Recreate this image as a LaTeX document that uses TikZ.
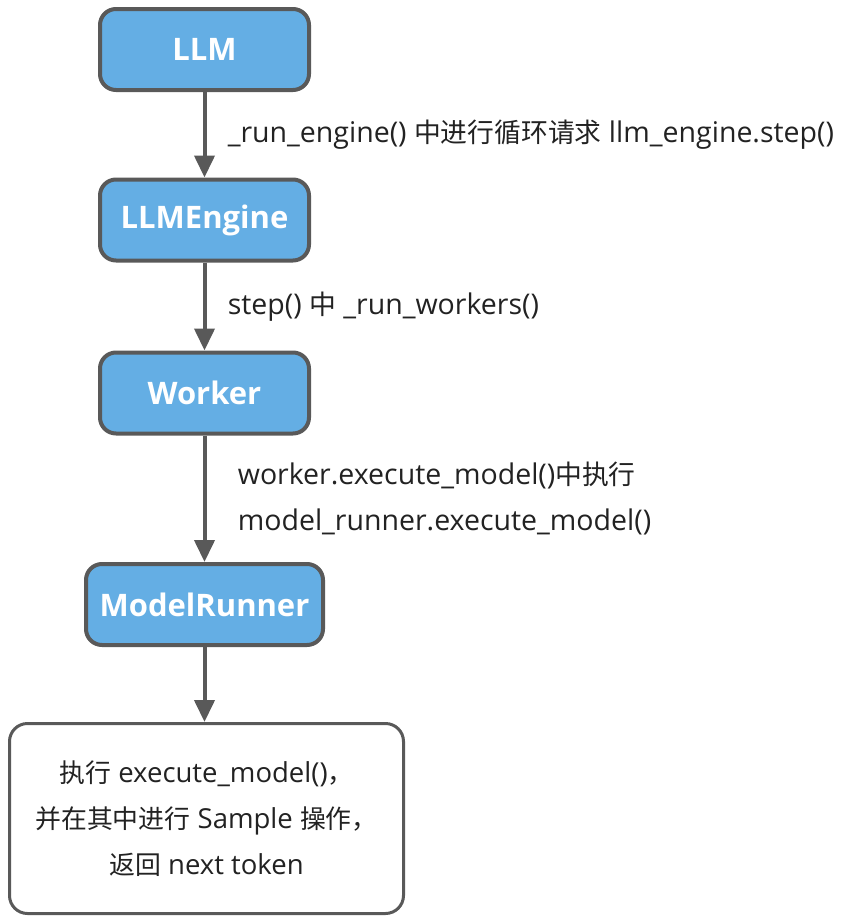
\documentclass[tikz,border=0pt]{standalone}
\usepackage{fontspec}
\setmainfont{Open Sans}
\newfontfamily\cjk{Noto Sans CJK SC}[Scale=0.94]
\usetikzlibrary{arrows.meta}
\definecolor{boxblue}{HTML}{64AEE4}
\definecolor{edgegray}{HTML}{595959}
\definecolor{textgray}{HTML}{222222}
\tikzset{
  stagebox/.style={draw=edgegray,line width=4pt,fill=boxblue,rounded corners=16pt,
    minimum height=81pt,text=white,font=\fontsize{31}{34}\selectfont\bfseries},
  resultbox/.style={draw=edgegray,line width=3pt,fill=white,rounded corners=18pt,
    minimum width=394pt,minimum height=190pt,text=textgray,align=center,
    font=\fontsize{27.5}{46}\selectfont},
  callarrow/.style={edgegray,line width=4pt,-{Triangle[length=22pt,width=20pt]}},
  calllabel/.style={right,text=textgray,font=\fontsize{28.5}{46}\selectfont,align=left}
}
\begin{document}
\begin{tikzpicture}[x=1pt,y=-1pt]
\useasboundingbox (0,0) rectangle (855,921);
\node[stagebox,minimum width=209pt] (llm) at (204.5,49.5) {LLM};
\node[stagebox,minimum width=209pt] (engine) at (204.5,220) {LLMEngine};
\node[stagebox,minimum width=209pt] (worker) at (204.5,393) {Worker};
\node[stagebox,minimum width=237pt] (runner) at (204.5,604.5) {ModelRunner};
\node[resultbox] (result) at (206.5,818.5) {{\cjk 执行} execute\_model(){\cjk ，}\\
{\cjk 并在其中进行} Sample {\cjk 操作，}\\{\cjk 返回} next token};
\draw[callarrow] (llm) -- (engine) node[calllabel,midway,xshift=18pt]
  {\_run\_engine() {\cjk 中进行循环请求} llm\_engine.step()};
\draw[callarrow] (engine) -- (worker) node[calllabel,midway,xshift=18pt]
  {step() {\cjk 中} \_run\_workers()};
\draw[callarrow] (worker) -- (runner) node[calllabel,midway,xshift=28pt]
  {worker.execute\_model(){\cjk 中执行}\\model\_runner.execute\_model()};
\draw[callarrow] (runner) -- (runner |- result.north);
\end{tikzpicture}
\end{document}
